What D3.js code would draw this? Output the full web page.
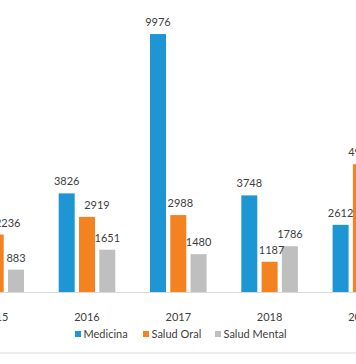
<!DOCTYPE html>
<html>
<head>
<meta charset="utf-8">
<script src="https://cdn.jsdelivr.net/npm/d3@7"></script>
<style>
html,body{margin:0;padding:0;background:#fff;overflow:hidden;}
svg{display:block;}
text{font-family:Lato,"Open Sans",sans-serif;fill:#404040;}
</style>
</head>
<body>
<svg id="chart" width="356" height="364"></svg>
<script>
const years = ["2015","2016","2017","2018","2019"];
const seriesNames = ["Medicina","Salud Oral","Salud Mental"];
const medicina = [2500, 3826, 9976, 3748, 2612];
const saludOral = [2236, 2919, 2988, 1187, 4950];
const saludMental = [883, 1651, 1480, 1786, 1500];
const colors = ["#1E96D4","#F58220","#BFBFBF"];
// manual horizontal nudges of data labels (as in the original), per series per year
const labelShift = [[0,0,0,0,0],[12,10,2,2,0],[0,0,0,0,0]];

const seriesValues = [medicina, saludOral, saludMental];
const data = years.map((y,i)=>({year:y, values: seriesNames.map((s,j)=>({key:s, value:seriesValues[j][i], dx:labelShift[j][i]}))}));

const svg = d3.select("#chart");
const W = 356, H = 364;
const baseY = 292.5;

const x0 = d3.scaleBand().domain(years).range([-49.95, 406.55]).padding(0);
const x1 = d3.scaleBand().domain(seriesNames).range([0, 56.6]).paddingInner(0.212).paddingOuter(0);
const y = d3.scaleLinear().domain([0, 12000]).range([baseY, baseY - 12000*0.02591]);
const color = d3.scaleOrdinal().domain(seriesNames).range(colors);

// chart border (bottom visible)
svg.append("line").attr("x1",0).attr("x2",W).attr("y1",353).attr("y2",353)
  .attr("stroke","#D9D9D9").attr("stroke-width",1);

// groups
const groups = svg.append("g").selectAll("g").data(data).join("g")
  .attr("transform", d => `translate(${x0(d.year)+x0.bandwidth()/2-28.3},0)`);

groups.selectAll("rect").data(d=>d.values).join("rect")
  .attr("x", d=>x1(d.key))
  .attr("width", x1.bandwidth())
  .attr("y", d=>y(d.value))
  .attr("height", d=>baseY - y(d.value))
  .attr("fill", d=>color(d.key));

groups.selectAll("text.lbl").data(d=>d.values).join("text")
  .attr("class","lbl")
  .attr("x", d=>x1(d.key)+x1.bandwidth()/2 + d.dx)
  .attr("y", d=>y(d.value)-8)
  .attr("text-anchor","middle")
  .attr("font-size","11px")
  .text(d=>d.value);

// x axis
const xAxis = d3.axisBottom(x0).tickSize(0).tickPadding(0);
const ax = svg.append("g").attr("transform",`translate(0,${baseY})`).call(xAxis);
ax.select(".domain").remove();
ax.selectAll("text").attr("dy",null).attr("y",28.5).attr("font-size","11px")
  .style("font-family","Lato,'Open Sans',sans-serif").attr("fill","#404040");
svg.append("line").attr("x1",0).attr("x2",W).attr("y1",baseY).attr("y2",baseY)
  .attr("stroke","#D9D9D9").attr("stroke-width",1);

// legend
const legendX = [75, 143, 215];
const lg = svg.append("g").selectAll("g").data(seriesNames).join("g")
  .attr("transform",(d,i)=>`translate(${legendX[i]},331)`);
lg.append("rect").attr("width",6).attr("height",6).attr("fill",d=>color(d));
lg.append("text").attr("x",8.5).attr("y",6.7).attr("font-size","11px").text(d=>d);
</script>
</body>
</html>
